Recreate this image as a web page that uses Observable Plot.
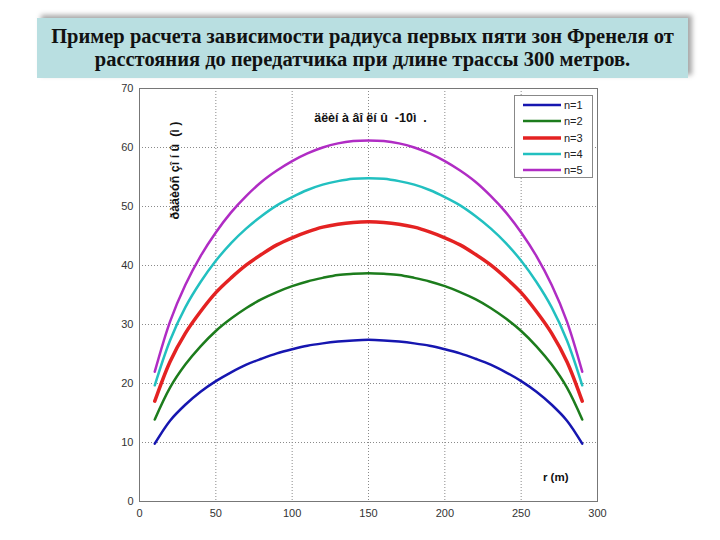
<!DOCTYPE html>
<html><head><meta charset="utf-8">
<script src="https://cdn.jsdelivr.net/npm/d3@7"></script>
<script src="https://cdn.jsdelivr.net/npm/@observablehq/plot@0.6"></script>
<style>
body{margin:0;background:#fff;}
#wrap{position:relative;width:720px;height:540px;overflow:hidden;background:#fff;}
#title{position:absolute;left:37px;top:18px;width:651px;height:60px;background:#b9dfe1;box-shadow:4px -3px 5px rgba(0,0,0,0.35);font-family:"Liberation Serif","Times New Roman",serif;font-weight:bold;font-size:20.5px;line-height:23px;text-align:center;color:#111;display:flex;align-items:center;justify-content:center;z-index:2;}
#chart{position:absolute;left:0;top:0;}
#legend{position:absolute;left:514px;top:95px;width:79px;height:83px;border:1px solid #888;background:#fff;box-sizing:border-box;font-family:"Liberation Sans",Arial,sans-serif;font-size:11px;color:#222;padding-top:1px;}
#legend .row{display:flex;align-items:center;height:16.3px;}
#legend svg{margin-left:8px;margin-right:3px;}
</style>
</head><body>
<div id="wrap">
  <div id="title">Пример расчета зависимости радиуса первых пяти зон Френеля от<br>расстояния до передатчика при длине трассы 300 метров.</div>
  <div id="chart"></div>
  <div id="legend"></div>
</div>
<script>
// distances along the path (m)
const xs = [10,20,30,40,50,60,70,80,90,100,110,120,130,140,150,160,170,180,190,200,210,220,230,240,250,260,270,280,290];
// radius of Fresnel zones n=1..5 (m)
const r1 = [9.8,13.7,16.4,18.6,20.4,21.9,23.2,24.2,25.1,25.8,26.4,26.8,27.1,27.3,27.4,27.3,27.1,26.8,26.4,25.8,25.1,24.2,23.2,21.9,20.4,18.6,16.4,13.7,9.8];
const r2 = [13.9,19.3,23.2,26.3,28.9,31.0,32.8,34.3,35.5,36.5,37.3,37.9,38.4,38.6,38.7,38.6,38.4,37.9,37.3,36.5,35.5,34.3,32.8,31.0,28.9,26.3,23.2,19.3,13.9];
const r3 = [17.0,23.7,28.5,32.2,35.4,37.9,40.1,41.9,43.5,44.7,45.7,46.5,47.0,47.3,47.4,47.3,47.0,46.5,45.7,44.7,43.5,41.9,40.1,37.9,35.4,32.2,28.5,23.7,17.0];
const r4 = [19.7,27.3,32.9,37.2,40.8,43.8,46.3,48.4,50.2,51.6,52.8,53.7,54.3,54.7,54.8,54.7,54.3,53.7,52.8,51.6,50.2,48.4,46.3,43.8,40.8,37.2,32.9,27.3,19.7];
const r5 = [22.0,30.5,36.7,41.6,45.6,49.0,51.8,54.2,56.1,57.7,59.0,60.0,60.7,61.1,61.2,61.1,60.7,60.0,59.0,57.7,56.1,54.2,51.8,49.0,45.6,41.6,36.7,30.5,22.0];
const seriesNames = ["n=1","n=2","n=3","n=4","n=5"];
const seriesValues = [r1,r2,r3,r4,r5];
const seriesColors = ["#1616b0","#1c7c1c","#e42222","#22c0c0","#b02cc4"];
const seriesWidths = [2.5,2.5,3.5,2.5,2.5];
const xTicks = [0,50,100,150,200,250,300];
const yTicks = [0,10,20,30,40,50,60,70];
const topLabel = "äëèí à âî ëí û \u00a0-10ì \u00a0.";
const yLabel = "ðàäèóñ çî í û \u00a0(ì )";
const xLabel = "r (m)";

const lineMarks = seriesValues.map((vals, i) =>
  Plot.line(xs.map((x, j) => ({x, r: vals[j]})), {x: "x", y: "r", stroke: seriesColors[i], strokeWidth: seriesWidths[i], strokeLinejoin: "round", curve: "catmull-rom"})
);

const chart = Plot.plot({
  width: 720, height: 540,
  marginLeft: 139, marginRight: 123, marginTop: 88, marginBottom: 39,
  style: {fontFamily: "Liberation Sans, Arial, sans-serif", fontSize: "11px", color: "#333", background: "transparent"},
  x: {domain: [0, 300], ticks: xTicks, tickSize: 0, tickPadding: 8, label: null},
  y: {domain: [0, 70], ticks: yTicks, tickSize: 0, tickPadding: 6, label: null},
  marks: [
    Plot.gridX(xTicks.slice(1, -1), {stroke: "#8a8a8a", strokeOpacity: 1, strokeDasharray: "1,2"}),
    Plot.gridY(yTicks.slice(1, -1), {stroke: "#8a8a8a", strokeOpacity: 1, strokeDasharray: "1,2"}),
    Plot.frame({stroke: "#777"}),
    ...lineMarks,
    Plot.text([topLabel], {frameAnchor: "top", dx: 2, dy: 25, text: d => d, fontWeight: "bold", fontSize: 12.5, fill: "#111"}),
    Plot.text([yLabel], {frameAnchor: "top-left", dx: 31, dy: 82, rotate: -90, textAnchor: "middle", text: d => d, fontWeight: "bold", fontSize: 12.5, fill: "#111"}),
    Plot.text([xLabel], {frameAnchor: "bottom-right", dx: -29, dy: -21, text: d => d, fontWeight: "bold", fontSize: 11.5, fill: "#111"})
  ]
});
document.getElementById("chart").append(chart);

const legend = d3.select("#legend");
seriesNames.forEach((name, i) => {
  const row = legend.append("div").attr("class", "row");
  const s = row.append("svg").attr("width", 38).attr("height", 6);
  s.append("line").attr("x1", 0).attr("x2", 38).attr("y1", 3).attr("y2", 3)
    .attr("stroke", seriesColors[i]).attr("stroke-width", seriesWidths[i]);
  row.append("span").text(name);
});
</script>
</body></html>
